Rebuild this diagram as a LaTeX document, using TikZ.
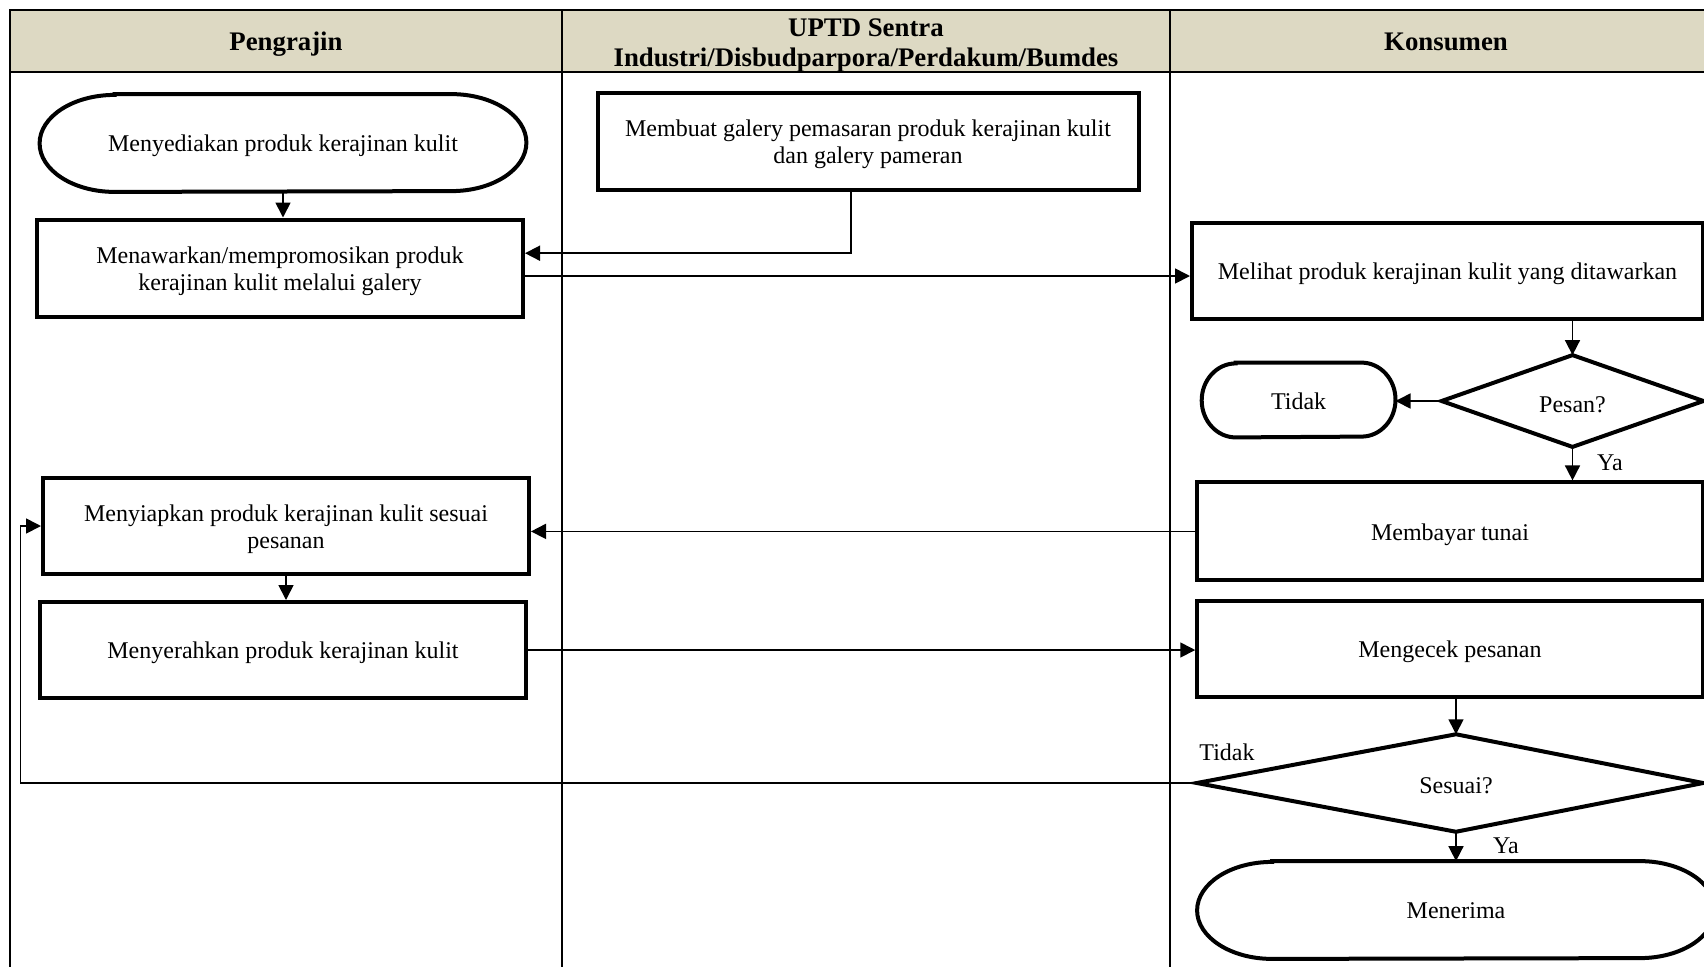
\documentclass[tikz,border=0pt]{standalone}
\usepackage{fontspec}
\setmainfont{Liberation Serif}
\usetikzlibrary{arrows.meta,calc}
\definecolor{laneHead}{HTML}{DDD9C3}
\newcommand\bodyfont{\fontsize{12}{13.5}\selectfont}
\newcommand\headfont{\fontsize{13.4}{15.2}\selectfont\bfseries}
% outline of a terminator: straight top/bottom with elliptical caps
\newcommand\termpath[3]{%
  \draw[boxline] ([xshift=#2]#1.north west) -- ([xshift=-#2]#1.north east)
    arc[start angle=90,end angle=-90,x radius=#2,y radius=#3]
    -- ([xshift=#2]#1.south west)
    arc[start angle=270,end angle=90,x radius=#2,y radius=#3] -- cycle;}
% outline of a decision diamond; #2 moves the top and bottom corners sideways
\newcommand\decpath[2]{%
  \draw[boxline] ([xshift=#2]#1.north) -- (#1.east) -- ([xshift=#2]#1.south)
    -- (#1.west) -- cycle;}
\tikzset{
  boxline/.style={line width=2pt, line join=miter},
  proc/.style={draw, boxline, inner sep=0pt},
  shapeonly/.style={draw=none, inner sep=0pt},
  boxtext/.style={font=\bodyfont, align=center, inner sep=0pt, yshift=-1.6pt},
  link/.style={line width=0.85pt, -{Triangle[length=7.5pt,width=7.5pt]}},
  lbl/.style={font=\bodyfont, inner sep=0pt},
  lanehead/.style={font=\headfont, align=center, inner sep=0pt},
}
\begin{document}
\begin{tikzpicture}[x=0.5pt,y=0.5pt]
\useasboundingbox (0,0) rectangle (1704,-966);
\clip (0,0) rectangle (1704,-966);

% swimlane frame
\fill[laneHead] (10,-10) rectangle (1723,-72);
\draw[line width=1.1pt] (10,-1000) -- (10,-10) -- (1723,-10);
\draw[line width=1.1pt] (10,-72) -- (1723,-72);
\draw[line width=0.85pt] (562,-10) -- (562,-1000);
\draw[line width=0.85pt] (1170,-10) -- (1170,-1000);

\node[lanehead] (hA) at (286,-44.3) {Pengrajin};
\node[lanehead] (hB) at (866,-45.3) {UPTD Sentra\\Industri/Disbudparpora/Perdakum/Bumdes};
\node[lanehead] (hC) at (1446,-42) {Konsumen};

% Pengrajin lane
\node[shapeonly, minimum width=243pt, minimum height=48.5pt,
  label={[boxtext]center:Menyediakan produk kerajinan kulit}] (t1) at (283,-143) {};
\termpath{t1}{37.5pt}{24.25pt}
\node[proc, minimum width=243pt, minimum height=48.5pt,
  label={[boxtext]center:{Menawarkan/mempromosikan produk\\kerajinan kulit melalui galery}}] (b1) at (280,-268) {};
\node[proc, minimum width=243pt, minimum height=48pt,
  label={[boxtext]center:{Menyiapkan produk kerajinan kulit sesuai\\pesanan}}] (b2) at (286,-526) {};
\node[proc, minimum width=243pt, minimum height=48pt,
  label={[boxtext]center:Menyerahkan produk kerajinan kulit}] (b3) at (283,-650) {};

% UPTD lane
\node[proc, minimum width=270.5pt, minimum height=48.5pt,
  label={[boxtext]center:{Membuat galery pemasaran produk kerajinan kulit\\dan galery pameran}}] (m1) at (868,-141) {};

% Konsumen lane
\node[proc, minimum width=255.5pt, minimum height=48pt,
  label={[boxtext]center:Melihat produk kerajinan kulit yang ditawarkan}] (k1) at (1447.5,-270.6) {};
\node[shapeonly, minimum width=130.5pt, minimum height=45.5pt,
  label={[boxtext, yshift=-0.4pt]center:Pesan?}] (d1) at (1572.5,-401) {};
\decpath{d1}{0pt}
\node[shapeonly, minimum width=96.5pt, minimum height=37pt,
  label={[boxtext, yshift=1.1pt]center:Tidak}] (tt) at (1298.6,-400) {};
\termpath{tt}{17pt}{18.5pt}
\node[proc, minimum width=252.75pt, minimum height=49pt,
  label={[boxtext]center:Membayar tunai}] (k2) at (1450,-531.4) {};
\node[proc, minimum width=252.75pt, minimum height=47.8pt,
  label={[boxtext]center:Mengecek pesanan}] (k3) at (1450,-648.8) {};
\node[shapeonly, minimum width=252.75pt, minimum height=48.35pt,
  label={[boxtext, xshift=3pt]center:Sesuai?}] (d2) at (1450,-783) {};
\decpath{d2}{3pt}
\node[shapeonly, minimum width=258.5pt, minimum height=48.5pt,
  label={[boxtext, yshift=1.1pt]center:Menerima}] (t2) at (1456,-910) {};
\termpath{t2}{37.5pt}{24.25pt}

% branch labels
\node[lbl] (ya1) at (1610,-463) {Ya};
\node[lbl] (td2) at (1227,-752) {Tidak};
\node[lbl] (ya2) at (1506,-845.5) {Ya};

% bend points and shifted diamond corners
\coordinate (g1) at (851,-253.2);
\coordinate (g2) at (0,-276);
\coordinate (g3) at (20.6,0);
\coordinate (d2top) at ([xshift=3pt]d2.north);
\coordinate (d2bot) at ([xshift=3pt]d2.south);

% connectors
\draw[link] (t1.south) -- (t1.south |- b1.north);
\draw[link] (m1.south -| g1) -- (g1) -- (b1.east |- g1);
\draw[link] (b1.east |- g2) -- (k1.west |- g2);
\draw[link] (k1.south -| d1.north) -- (d1.north);
\draw[link] (d1.west) -- (tt.east |- d1.west);
\draw[link] (d1.south) -- (d1.south |- k2.north);
\draw[link] (k2.west) -- (b2.east |- k2.west);
\draw[link] (b2.south) -- (b2.south |- b3.north);
\draw[link] (b3.east) -- (k3.west |- b3.east);
\draw[link] (k3.south -| d2top) -- (d2top);
\draw[link] (d2.west) -- (g3 |- d2.west) -- (g3 |- b2.west) -- (b2.west);
\draw[link] (d2bot) -- (d2bot |- t2.north);
\end{tikzpicture}
\end{document}
